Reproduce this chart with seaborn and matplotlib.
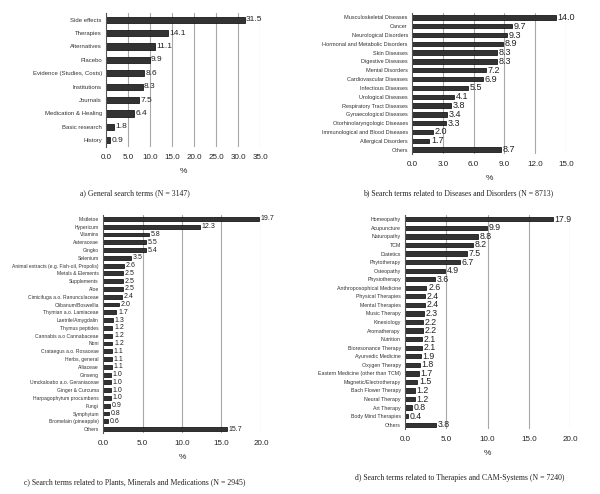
import matplotlib
matplotlib.use("Agg")
import matplotlib.pyplot as plt
import numpy as np
import pandas as pd
import seaborn as sns

# a) general search terms
general_terms = ["Side effects", "Therapies", "Alternatives", "Placebo", "Evidence (Studies, Costs)",
                 "Institutions", "Journals", "Medication & Healing", "Basic research", "History"]
general_pct = [31.5, 14.1, 11.1, 9.9, 8.6, 8.3, 7.5, 6.4, 1.8, 0.9]

# b) diseases and disorders
disease_terms = ["Musculoskeletal Diseases", "Cancer", "Neurological Disorders",
                 "Hormonal and Metabolic Disorders", "Skin Diseases", "Digestive Diseases",
                 "Mental Disorders", "Cardiovascular Diseases", "Infectious Diseases",
                 "Urological Diseases", "Respiratory Tract Diseases", "Gynaecological Diseases",
                 "Otorhinolaryngologic Diseases", "Immunological and Blood Diseases",
                 "Allergical Disorders", "Others"]
disease_pct = [14.0, 9.7, 9.3, 8.9, 8.3, 8.3, 7.2, 6.9, 5.5, 4.1, 3.8, 3.4, 3.3, 2.0, 1.7, 8.7]

# c) plants, minerals, medications
plant_terms = ["Mistletoe", "Hypericum", "Vitamins", "Asteraceae", "Gingko", "Selenium",
               "Animal extracts (e.g. Fish-oil, Propolis)", "Metals & Elements", "Supplements",
               "Aloe", "Cimicifuga a.o. Ranunculaceae", "Olibanum/Boswellia",
               "Thymian a.o. Lamiaceae", "Laetrile/Amygdalin", "Thymus peptides",
               "Cannabis a.o Cannabaceae", "Noni", "Crataegus a.o. Rosaceae", "Herbs, general",
               "Alliaceae", "Ginseng", "Umckaloabo a.o. Geraniaceae", "Ginger & Curcuma",
               "Harpagophytum procumbens", "Fungi", "Symphytum", "Bromelain (pineapple)", "Others"]
plant_pct = [19.7, 12.3, 5.8, 5.5, 5.4, 3.5, 2.6, 2.5, 2.5, 2.5, 2.4, 2.0, 1.7, 1.3, 1.2,
             1.2, 1.2, 1.1, 1.1, 1.1, 1.0, 1.0, 1.0, 1.0, 0.9, 0.8, 0.6, 15.7]

# d) therapies and CAM systems
therapy_terms = ["Homeopathy", "Acupuncture", "Naturopathy", "TCM", "Diatetics", "Phytotherapy",
                 "Osteopathy", "Physiotherapy", "Anthroposophical Medicine", "Physical Therapies",
                 "Mental Therapies", "Music Therapy", "Kinesiology", "Aromatherapy", "Nutrition",
                 "Bioresonance Therapy", "Ayurvedic Medicine", "Oxygen Therapy",
                 "Eastern Medicine (other than TCM)", "Magnetic/Electrotherapy",
                 "Bach Flower Therapy", "Neural Therapy", "Art Therapy", "Body Mind Therapies",
                 "Others"]
therapy_pct = [17.9, 9.9, 8.8, 8.2, 7.5, 6.7, 4.9, 3.6, 2.6, 2.4, 2.4, 2.3, 2.2, 2.2, 2.1,
               2.1, 1.9, 1.8, 1.7, 1.5, 1.2, 1.2, 0.8, 0.4, 3.8]

W, H = 600, 494
sns.set_theme(style="white")
plt.rcParams["font.family"] = ["Liberation Sans", "DejaVu Sans"]

fig = plt.figure(figsize=(W / 100, H / 100), dpi=100)


def px_axes(left, top, right, bottom):
    return fig.add_axes([left / W, 1 - bottom / H, (right - left) / W, (bottom - top) / H])


panels = [
    dict(terms=general_terms, pct=general_pct, box=(106, 13, 260, 147), xmax=35, step=5,
         bw=0.45, cat_fs=4.3, val_fs=6.0, tick_fs=5.8,
         caption="a) General search terms (N = 3147)", cap=(135, 193)),
    dict(terms=disease_terms, pct=disease_pct, box=(412, 13, 566, 154), xmax=15, step=3,
         bw=0.5, cat_fs=4.0, val_fs=6.5, tick_fs=5.8,
         caption="b) Search terms related to Diseases and Disorders (N = 8713)", cap=(458, 193)),
    dict(terms=plant_terms, pct=plant_pct, box=(103, 215, 261, 433), xmax=20, step=5,
         bw=0.5, cat_fs=3.6, val_fs=5.0, tick_fs=5.8,
         caption="c) Search terms related to Plants, Minerals and Medications (N = 2945)", cap=(135, 482)),
    dict(terms=therapy_terms, pct=therapy_pct, box=(405, 215, 570, 429), xmax=20, step=5,
         bw=0.5, cat_fs=3.8, val_fs=6.3, tick_fs=5.8,
         caption="d) Search terms related to Therapies and CAM-Systems (N = 7240)", cap=(460, 478)),
]

for p in panels:
    ax = px_axes(*p["box"])
    df = pd.DataFrame({"term": p["terms"], "pct": p["pct"]})
    sns.barplot(data=df, x="pct", y="term", orient="h", color="#333333",
                edgecolor="black", linewidth=0.5, width=p["bw"], saturation=1, ax=ax)
    ax.set_xlim(0, p["xmax"])
    ticks = np.arange(0, p["xmax"] + 0.01, p["step"])
    ax.set_xticks(ticks)
    ax.set_xticklabels([f"{t:.1f}" for t in ticks], fontsize=p["tick_fs"], color="#222222")
    ax.set_axisbelow(True)
    for t in ticks[1:]:
        ax.axvline(t, color="#a8a8a8", lw=0.8, zorder=0)
    ax.tick_params(axis="x", length=0, pad=5)
    ax.tick_params(axis="y", which="major", length=0, pad=3, labelsize=p["cat_fs"], labelcolor="#333333")
    n = len(p["terms"])
    ax.set_yticks(np.arange(-0.5, n, 1.0), minor=True)
    ax.tick_params(axis="y", which="minor", length=2.5, width=0.6, color="#555555", direction="out")
    for side in ["top", "right", "bottom"]:
        ax.spines[side].set_visible(False)
    ax.spines["left"].set_color("#555555")
    ax.spines["left"].set_linewidth(0.8)
    ax.set_ylabel("")
    ax.set_xlabel("%", fontsize=6, labelpad=5)
    for i, v in enumerate(p["pct"]):
        ax.text(v + p["xmax"] * 0.01, i, f"{v:.1f}", va="center", ha="left",
                fontsize=p["val_fs"], color="#222222")
    fig.text(p["cap"][0] / W, 1 - p["cap"][1] / H, p["caption"], ha="center", va="center",
             fontsize=5.6, family=["Liberation Serif", "DejaVu Serif"], color="#222222")

fig.savefig("out.png", dpi=100)
